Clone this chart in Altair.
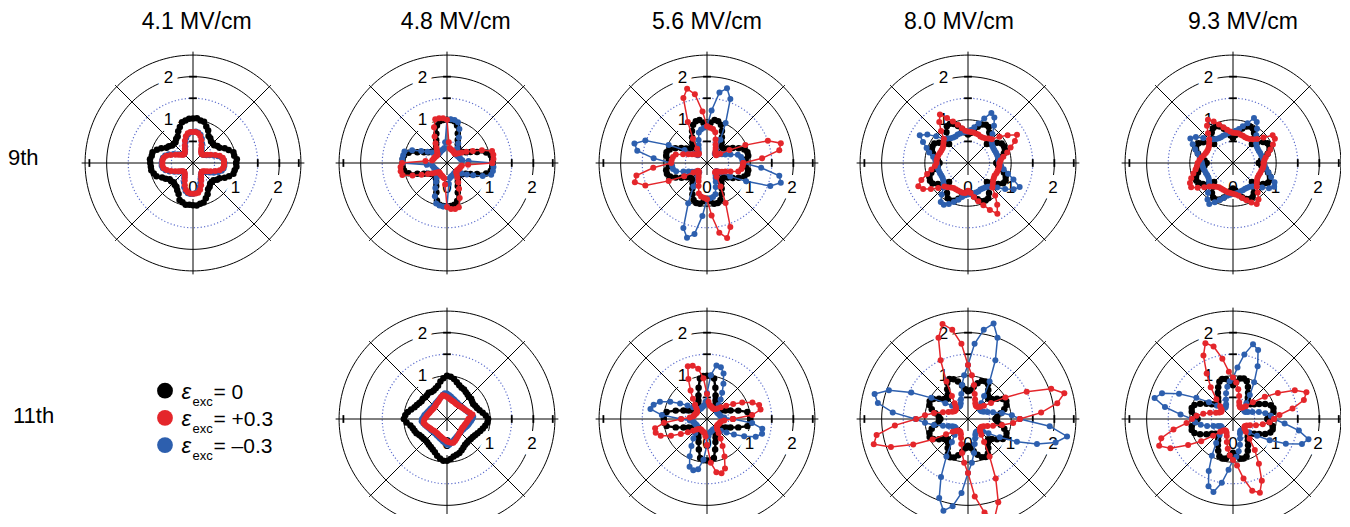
import altair as alt
import pandas as pd

# ------------------------------------------------------------------ text
FIELD_TITLES = ["4.1 MV/cm", "4.8 MV/cm", "5.6 MV/cm", "8.0 MV/cm", "9.3 MV/cm"]
ROW_LABELS = ["9th", "11th"]
LEGEND_SYMBOL = "\u03b5"
LEGEND_SUB = "exc"
LEGEND_VALUES = ["= 0", "= +0.3", "= \u20130.3"]
LEGEND_SERIES = ["black", "red", "blue"]

# polar grid (radial units)
RING_SOLID = [1.0, 2.0, 2.5]
RING_DOTTED = [0.5, 1.5]
UPPER_LABELS = [1, 2]
LOWER_LABELS = [0, 1, 2]

# ------------------------------------------------------------------ data
# radius read at every 5 degrees, starting at 0 deg (right), counter-clockwise

# 9th harmonic, 4.1 MV/cm
h9_f41_black = [
    1.00, 1.02, 0.97, 0.97, 0.88, 0.81, 0.71, 0.69, 0.64, 0.65, 0.65, 0.70, 0.72, 0.83, 0.90, 0.99, 1.00, 1.04,
    1.03, 1.03, 1.00, 0.98, 0.89, 0.81, 0.71, 0.68, 0.63, 0.63, 0.63, 0.68, 0.71, 0.81, 0.89, 0.97, 0.97, 1.00,
    0.99, 0.98, 0.98, 0.94, 0.90, 0.79, 0.73, 0.66, 0.66, 0.63, 0.66, 0.67, 0.73, 0.79, 0.91, 0.94, 0.98, 0.97,
    0.98, 0.99, 0.96, 0.95, 0.87, 0.80, 0.70, 0.67, 0.62, 0.62, 0.62, 0.68, 0.71, 0.81, 0.89, 0.97, 0.98, 1.01,
]
h9_f41_red = [
    0.72, 0.72, 0.70, 0.64, 0.55, 0.45, 0.38, 0.33, 0.30, 0.29, 0.30, 0.33, 0.38, 0.46, 0.56, 0.65, 0.70, 0.72,
    0.72, 0.72, 0.70, 0.64, 0.55, 0.45, 0.38, 0.33, 0.30, 0.29, 0.30, 0.33, 0.38, 0.45, 0.55, 0.64, 0.69, 0.71,
    0.71, 0.71, 0.69, 0.63, 0.54, 0.45, 0.38, 0.33, 0.30, 0.29, 0.30, 0.33, 0.38, 0.45, 0.55, 0.64, 0.69, 0.71,
    0.71, 0.71, 0.70, 0.64, 0.55, 0.45, 0.38, 0.33, 0.30, 0.29, 0.30, 0.33, 0.38, 0.45, 0.55, 0.64, 0.70, 0.72,
]
h9_f41_blue = [
    0.73, 0.72, 0.68, 0.60, 0.51, 0.42, 0.36, 0.32, 0.30, 0.29, 0.31, 0.35, 0.41, 0.50, 0.60, 0.68, 0.72, 0.73,
    0.72, 0.71, 0.67, 0.60, 0.51, 0.42, 0.36, 0.32, 0.30, 0.29, 0.31, 0.35, 0.41, 0.50, 0.60, 0.67, 0.71, 0.72,
    0.73, 0.73, 0.71, 0.66, 0.58, 0.48, 0.40, 0.34, 0.31, 0.30, 0.31, 0.35, 0.41, 0.50, 0.60, 0.67, 0.71, 0.72,
    0.72, 0.70, 0.66, 0.58, 0.49, 0.41, 0.36, 0.32, 0.30, 0.30, 0.32, 0.37, 0.44, 0.53, 0.62, 0.69, 0.72, 0.73,
]

# 9th harmonic, 4.8 MV/cm
h9_f48_black = [
    1.06, 1.05, 1.03, 0.94, 0.74, 0.60, 0.50, 0.44, 0.40, 0.38, 0.40, 0.44, 0.50, 0.59, 0.73, 0.90, 0.98, 1.00,
    1.00, 1.00, 0.98, 0.90, 0.72, 0.59, 0.50, 0.44, 0.40, 0.38, 0.40, 0.44, 0.50, 0.59, 0.73, 0.92, 1.01, 1.03,
    1.03, 1.03, 1.01, 0.92, 0.73, 0.59, 0.50, 0.44, 0.40, 0.38, 0.40, 0.44, 0.50, 0.59, 0.72, 0.90, 0.98, 1.00,
    1.00, 1.00, 0.98, 0.91, 0.73, 0.59, 0.50, 0.44, 0.40, 0.38, 0.40, 0.44, 0.50, 0.60, 0.74, 0.94, 1.03, 1.05,
]
h9_f48_red = [
    1.05, 1.08, 1.09, 1.08, 0.86, 0.66, 0.52, 0.42, 0.35, 0.30, 0.28, 0.29, 0.30, 0.31, 0.32, 0.33, 0.35, 0.48,
    1.00, 1.04, 1.05, 1.05, 0.88, 0.68, 0.53, 0.43, 0.36, 0.31, 0.29, 0.29, 0.30, 0.31, 0.32, 0.33, 0.35, 0.50,
    1.04, 1.08, 1.09, 1.07, 0.85, 0.65, 0.51, 0.42, 0.35, 0.30, 0.28, 0.29, 0.30, 0.31, 0.32, 0.34, 0.36, 0.50,
    1.02, 1.07, 1.08, 1.06, 0.86, 0.66, 0.52, 0.42, 0.35, 0.30, 0.29, 0.29, 0.30, 0.31, 0.32, 0.33, 0.35, 0.49,
]
h9_f48_blue = [
    1.05, 0.50, 0.36, 0.33, 0.32, 0.31, 0.30, 0.29, 0.29, 0.31, 0.35, 0.42, 0.52, 0.65, 0.84, 0.98, 1.01, 1.02,
    1.00, 0.48, 0.35, 0.33, 0.32, 0.31, 0.30, 0.29, 0.29, 0.31, 0.35, 0.42, 0.52, 0.66, 0.86, 1.02, 1.03, 1.04,
    1.03, 0.47, 0.35, 0.33, 0.32, 0.31, 0.30, 0.29, 0.29, 0.31, 0.35, 0.42, 0.51, 0.64, 0.82, 0.97, 1.00, 1.01,
    1.00, 0.48, 0.36, 0.33, 0.32, 0.31, 0.30, 0.29, 0.29, 0.31, 0.35, 0.42, 0.53, 0.67, 0.88, 1.06, 1.08, 1.08,
]

# 9th harmonic, 5.6 MV/cm
h9_f56_black = [
    0.84, 0.90, 0.97, 0.97, 0.92, 0.81, 0.69, 0.59, 0.52, 0.50, 0.52, 0.59, 0.69, 0.82, 0.94, 1.00, 1.01, 0.93,
    0.86, 0.93, 1.01, 1.00, 0.94, 0.82, 0.69, 0.59, 0.52, 0.50, 0.52, 0.59, 0.69, 0.81, 0.92, 0.97, 0.96, 0.89,
    0.84, 0.89, 0.96, 0.96, 0.91, 0.80, 0.68, 0.58, 0.52, 0.50, 0.52, 0.58, 0.68, 0.80, 0.91, 0.96, 0.96, 0.89,
    0.83, 0.89, 0.96, 0.96, 0.91, 0.80, 0.68, 0.58, 0.52, 0.50, 0.52, 0.59, 0.69, 0.81, 0.92, 0.97, 0.97, 0.90,
]
h9_f56_red = [
    0.84, 1.28, 1.70, 1.77, 1.50, 0.98, 0.60, 0.37, 0.28, 0.28, 0.30, 0.34, 0.40, 0.47, 0.58, 0.74, 0.80, 0.82,
    0.85, 1.20, 1.62, 1.78, 1.60, 1.05, 0.65, 0.40, 0.29, 0.28, 0.31, 0.35, 0.40, 0.48, 0.59, 0.75, 0.80, 0.82,
    0.83, 1.25, 1.66, 1.73, 1.52, 0.98, 0.61, 0.38, 0.28, 0.27, 0.30, 0.34, 0.39, 0.46, 0.57, 0.73, 0.79, 0.81,
    0.84, 1.22, 1.64, 1.80, 1.58, 1.02, 0.63, 0.39, 0.29, 0.28, 0.31, 0.35, 0.40, 0.47, 0.58, 0.75, 0.81, 0.83,
]
h9_f56_blue = [
    0.84, 0.82, 0.80, 0.74, 0.58, 0.47, 0.40, 0.35, 0.31, 0.28, 0.28, 0.38, 0.62, 1.02, 1.58, 1.79, 1.66, 1.22,
    0.85, 0.82, 0.79, 0.73, 0.57, 0.46, 0.39, 0.34, 0.30, 0.28, 0.28, 0.37, 0.60, 0.98, 1.52, 1.74, 1.64, 1.24,
    0.83, 0.81, 0.80, 0.74, 0.58, 0.47, 0.40, 0.35, 0.31, 0.28, 0.28, 0.38, 0.63, 1.03, 1.60, 1.79, 1.67, 1.23,
    0.84, 0.82, 0.80, 0.75, 0.59, 0.48, 0.40, 0.35, 0.31, 0.29, 0.29, 0.38, 0.62, 1.00, 1.56, 1.77, 1.70, 1.26,
]

# 9th harmonic, 8.0 MV/cm
h9_f80_black = [
    0.66, 0.70, 0.78, 0.86, 0.91, 0.92, 0.90, 0.82, 0.69, 0.62, 0.70, 0.86, 0.96, 0.98, 0.95, 0.87, 0.78, 0.70,
    0.66, 0.71, 0.80, 0.89, 0.96, 1.00, 0.98, 0.87, 0.71, 0.62, 0.69, 0.82, 0.90, 0.91, 0.89, 0.84, 0.77, 0.70,
    0.66, 0.70, 0.79, 0.88, 0.95, 0.97, 0.95, 0.85, 0.70, 0.62, 0.70, 0.85, 0.94, 0.96, 0.93, 0.86, 0.77, 0.70,
    0.66, 0.70, 0.78, 0.87, 0.94, 0.96, 0.94, 0.85, 0.70, 0.62, 0.70, 0.85, 0.94, 0.96, 0.93, 0.86, 0.77, 0.70,
]
h9_f80_red = [
    0.73, 0.76, 0.83, 0.94, 1.05, 1.20, 1.31, 1.12, 0.95, 0.78, 0.74, 0.70, 0.68, 0.68, 0.70, 0.71, 0.72, 0.72,
    0.73, 0.75, 0.82, 0.92, 1.02, 1.15, 1.30, 1.16, 0.97, 0.79, 0.74, 0.70, 0.68, 0.68, 0.69, 0.71, 0.72, 0.73,
    0.73, 0.77, 0.86, 0.98, 1.15, 1.27, 1.20, 1.05, 0.90, 0.77, 0.73, 0.69, 0.67, 0.67, 0.68, 0.69, 0.70, 0.70,
    0.64, 0.70, 0.80, 0.92, 1.04, 1.20, 1.36, 1.18, 0.98, 0.80, 0.75, 0.71, 0.69, 0.68, 0.70, 0.71, 0.72, 0.73,
]
h9_f80_blue = [
    0.72, 0.71, 0.71, 0.70, 0.69, 0.68, 0.68, 0.69, 0.72, 0.76, 0.88, 1.05, 1.22, 1.28, 1.10, 0.95, 0.84, 0.77,
    0.73, 0.72, 0.72, 0.71, 0.70, 0.68, 0.68, 0.70, 0.74, 0.78, 0.96, 1.15, 1.29, 1.15, 1.02, 0.93, 0.82, 0.76,
    0.72, 0.71, 0.71, 0.70, 0.69, 0.68, 0.68, 0.70, 0.74, 0.80, 0.95, 1.10, 1.12, 1.05, 0.96, 0.88, 0.80, 0.75,
    0.73, 0.72, 0.72, 0.71, 0.70, 0.68, 0.68, 0.69, 0.72, 0.76, 0.88, 1.05, 1.22, 1.32, 1.12, 0.96, 0.84, 0.77,
]

# 9th harmonic, 9.3 MV/cm
h9_f93_black = [
    0.60, 0.65, 0.73, 0.83, 0.90, 0.93, 0.92, 0.85, 0.72, 0.62, 0.72, 0.85, 0.92, 0.93, 0.90, 0.83, 0.73, 0.65,
    0.58, 0.64, 0.72, 0.82, 0.90, 0.94, 0.93, 0.86, 0.73, 0.62, 0.71, 0.84, 0.92, 0.94, 0.91, 0.84, 0.74, 0.66,
    0.61, 0.66, 0.74, 0.84, 0.91, 0.94, 0.92, 0.85, 0.72, 0.62, 0.72, 0.85, 0.92, 0.93, 0.90, 0.83, 0.73, 0.65,
    0.59, 0.64, 0.72, 0.82, 0.89, 0.92, 0.91, 0.84, 0.72, 0.62, 0.72, 0.85, 0.93, 0.94, 0.91, 0.84, 0.74, 0.66,
]
h9_f93_red = [
    0.71, 0.73, 0.77, 0.84, 0.92, 1.02, 1.12, 1.12, 0.92, 0.79, 0.72, 0.68, 0.66, 0.66, 0.67, 0.68, 0.70, 0.70,
    0.70, 0.73, 0.78, 0.86, 0.95, 1.06, 1.16, 1.05, 0.90, 0.78, 0.72, 0.68, 0.66, 0.66, 0.67, 0.70, 0.74, 0.78,
    0.82, 0.84, 0.88, 0.95, 1.03, 1.10, 1.12, 1.00, 0.87, 0.77, 0.71, 0.67, 0.65, 0.65, 0.66, 0.67, 0.69, 0.70,
    0.71, 0.73, 0.77, 0.84, 0.92, 1.01, 1.10, 1.03, 0.89, 0.78, 0.72, 0.68, 0.66, 0.66, 0.67, 0.68, 0.70, 0.71,
]
h9_f93_blue = [
    0.72, 0.71, 0.70, 0.68, 0.67, 0.66, 0.66, 0.67, 0.70, 0.75, 0.84, 0.97, 1.10, 1.15, 0.98, 0.88, 0.80, 0.75,
    0.72, 0.71, 0.70, 0.68, 0.67, 0.66, 0.66, 0.68, 0.72, 0.78, 0.90, 1.05, 1.14, 1.03, 0.93, 0.85, 0.78, 0.74,
    0.72, 0.71, 0.70, 0.68, 0.67, 0.66, 0.66, 0.68, 0.72, 0.78, 0.90, 1.03, 1.10, 1.00, 0.91, 0.84, 0.77, 0.74,
    0.72, 0.71, 0.70, 0.68, 0.67, 0.66, 0.66, 0.67, 0.71, 0.77, 0.88, 1.02, 1.10, 1.06, 0.94, 0.85, 0.78, 0.74,
]

# 11th harmonic, 4.8 MV/cm
h11_f48_black = [
    0.95, 0.90, 0.84, 0.78, 0.74, 0.72, 0.70, 0.71, 0.73, 0.72, 0.74, 0.76, 0.79, 0.80, 0.83, 0.88, 0.94, 0.98,
    1.00, 0.95, 0.88, 0.80, 0.76, 0.73, 0.72, 0.74, 0.72, 0.71, 0.73, 0.72, 0.74, 0.77, 0.80, 0.86, 0.92, 0.97,
    1.00, 0.94, 0.86, 0.82, 0.80, 0.78, 0.74, 0.72, 0.71, 0.70, 0.71, 0.73, 0.75, 0.78, 0.82, 0.88, 0.93, 0.97,
    0.97, 0.93, 0.88, 0.86, 0.84, 0.80, 0.76, 0.73, 0.72, 0.71, 0.72, 0.73, 0.75, 0.78, 0.82, 0.86, 0.90, 0.94,
]
h11_f48_red = [
    0.50, 0.55, 0.60, 0.55, 0.51, 0.48, 0.46, 0.44, 0.43, 0.42, 0.41, 0.41, 0.41, 0.42, 0.43, 0.44, 0.46, 0.48,
    0.51, 0.54, 0.56, 0.53, 0.49, 0.46, 0.44, 0.43, 0.41, 0.40, 0.40, 0.40, 0.41, 0.42, 0.43, 0.45, 0.47, 0.49,
    0.52, 0.54, 0.55, 0.52, 0.49, 0.46, 0.44, 0.43, 0.41, 0.40, 0.40, 0.40, 0.41, 0.42, 0.43, 0.45, 0.47, 0.49,
    0.52, 0.54, 0.56, 0.57, 0.54, 0.51, 0.48, 0.46, 0.44, 0.43, 0.42, 0.41, 0.41, 0.42, 0.43, 0.44, 0.46, 0.48,
]
h11_f48_blue = [
    0.58, 0.61, 0.57, 0.53, 0.50, 0.48, 0.46, 0.45, 0.44, 0.43, 0.43, 0.44, 0.45, 0.46, 0.48, 0.50, 0.53, 0.56,
    0.59, 0.60, 0.57, 0.53, 0.50, 0.48, 0.46, 0.45, 0.44, 0.43, 0.43, 0.44, 0.45, 0.46, 0.48, 0.50, 0.53, 0.55,
    0.58, 0.59, 0.56, 0.53, 0.50, 0.48, 0.46, 0.45, 0.44, 0.43, 0.43, 0.44, 0.45, 0.46, 0.48, 0.50, 0.53, 0.56,
    0.59, 0.60, 0.57, 0.53, 0.50, 0.48, 0.46, 0.45, 0.44, 0.43, 0.43, 0.44, 0.45, 0.47, 0.49, 0.51, 0.53, 0.56,
]

# 11th harmonic, 5.6 MV/cm
h11_f56_black = [
    1.00, 1.00, 0.95, 0.75, 0.58, 0.47, 0.40, 0.36, 0.33, 0.32, 0.33, 0.36, 0.40, 0.47, 0.58, 0.75, 0.95, 1.00,
    1.00, 1.00, 0.95, 0.75, 0.58, 0.47, 0.40, 0.36, 0.33, 0.32, 0.33, 0.36, 0.40, 0.47, 0.58, 0.75, 0.95, 1.00,
    1.00, 1.00, 0.95, 0.75, 0.58, 0.47, 0.40, 0.36, 0.33, 0.32, 0.33, 0.36, 0.40, 0.47, 0.57, 0.73, 0.92, 0.96,
    0.96, 0.96, 0.92, 0.73, 0.57, 0.47, 0.40, 0.36, 0.33, 0.32, 0.33, 0.36, 0.40, 0.47, 0.58, 0.75, 0.95, 1.00,
]
h11_f56_red = [
    0.60, 1.05, 1.26, 1.25, 1.12, 0.90, 0.70, 0.54, 0.42, 0.34, 0.30, 0.28, 0.28, 0.29, 0.30, 0.31, 0.33, 0.40,
    0.58, 0.95, 1.18, 1.28, 1.30, 1.02, 0.76, 0.57, 0.43, 0.35, 0.30, 0.28, 0.28, 0.29, 0.30, 0.31, 0.33, 0.40,
    0.60, 1.00, 1.22, 1.23, 1.14, 0.92, 0.70, 0.54, 0.42, 0.34, 0.30, 0.28, 0.28, 0.29, 0.30, 0.31, 0.33, 0.40,
    0.60, 1.02, 1.25, 1.30, 1.22, 0.96, 0.72, 0.55, 0.42, 0.34, 0.30, 0.28, 0.28, 0.29, 0.30, 0.31, 0.33, 0.40,
]
h11_f56_blue = [
    0.60, 0.40, 0.33, 0.31, 0.30, 0.29, 0.28, 0.28, 0.30, 0.34, 0.42, 0.55, 0.70, 0.90, 1.12, 1.24, 1.26, 1.02,
    0.60, 0.40, 0.33, 0.31, 0.30, 0.29, 0.28, 0.28, 0.30, 0.34, 0.42, 0.55, 0.72, 0.94, 1.16, 1.28, 1.33, 1.05,
    0.60, 0.40, 0.33, 0.31, 0.30, 0.29, 0.28, 0.28, 0.30, 0.34, 0.42, 0.55, 0.72, 0.95, 1.18, 1.23, 1.18, 0.95,
    0.60, 0.40, 0.33, 0.31, 0.30, 0.29, 0.28, 0.28, 0.30, 0.34, 0.42, 0.55, 0.72, 0.95, 1.20, 1.32, 1.30, 1.05,
]

# 11th harmonic, 8.0 MV/cm
h11_f80_black = [
    0.64, 0.68, 0.77, 0.87, 0.95, 0.98, 0.93, 0.82, 0.72, 0.66, 0.72, 0.82, 0.93, 0.96, 0.94, 0.86, 0.76, 0.67,
    0.64, 0.69, 0.79, 0.90, 0.98, 1.02, 0.96, 0.84, 0.73, 0.66, 0.72, 0.82, 0.93, 0.98, 0.95, 0.87, 0.77, 0.68,
    0.64, 0.68, 0.77, 0.87, 0.95, 0.98, 0.93, 0.82, 0.72, 0.66, 0.72, 0.82, 0.93, 0.98, 0.95, 0.87, 0.77, 0.68,
    0.62, 0.67, 0.76, 0.86, 0.94, 0.97, 0.92, 0.82, 0.72, 0.66, 0.72, 0.82, 0.93, 0.98, 0.95, 0.87, 0.77, 0.68,
]
h11_f80_red = [
    1.20, 1.70, 2.10, 2.31, 2.05, 1.50, 1.00, 0.65, 0.48, 0.40, 0.36, 0.35, 0.36, 0.40, 0.48, 0.60, 0.80, 1.02,
    1.25, 1.75, 2.10, 2.28, 2.00, 1.50, 1.00, 0.65, 0.48, 0.40, 0.36, 0.35, 0.36, 0.40, 0.48, 0.60, 0.80, 1.00,
    1.20, 1.70, 2.15, 2.26, 1.90, 1.40, 0.95, 0.62, 0.46, 0.39, 0.35, 0.34, 0.35, 0.39, 0.47, 0.60, 0.80, 1.02,
    1.25, 1.80, 2.20, 2.38, 2.05, 1.52, 1.00, 0.65, 0.48, 0.40, 0.36, 0.35, 0.36, 0.40, 0.48, 0.60, 0.80, 1.05,
]
h11_f80_blue = [
    1.20, 1.02, 0.80, 0.60, 0.48, 0.40, 0.36, 0.35, 0.36, 0.40, 0.48, 0.65, 1.00, 1.50, 2.00, 2.29, 2.10, 1.75,
    1.25, 1.02, 0.80, 0.60, 0.48, 0.40, 0.36, 0.35, 0.36, 0.40, 0.48, 0.64, 0.98, 1.45, 1.95, 2.24, 2.12, 1.75,
    1.22, 1.00, 0.80, 0.60, 0.48, 0.40, 0.36, 0.35, 0.36, 0.40, 0.48, 0.65, 1.00, 1.48, 1.95, 2.20, 2.05, 1.72,
    1.25, 1.02, 0.80, 0.60, 0.48, 0.40, 0.36, 0.35, 0.36, 0.40, 0.46, 0.58, 0.85, 1.25, 1.70, 2.10, 2.33, 1.90,
]

# 11th harmonic, 9.3 MV/cm
h11_f93_black = [
    0.80, 0.86, 0.95, 0.97, 0.93, 0.82, 0.70, 0.60, 0.53, 0.50, 0.53, 0.60, 0.70, 0.82, 0.93, 0.97, 0.95, 0.86,
    0.78, 0.85, 0.94, 0.96, 0.92, 0.81, 0.70, 0.60, 0.53, 0.50, 0.53, 0.60, 0.71, 0.84, 0.95, 0.99, 0.97, 0.88,
    0.82, 0.88, 0.97, 0.99, 0.95, 0.84, 0.71, 0.60, 0.53, 0.50, 0.53, 0.60, 0.70, 0.81, 0.92, 0.95, 0.93, 0.85,
    0.78, 0.84, 0.93, 0.95, 0.92, 0.81, 0.70, 0.60, 0.53, 0.50, 0.53, 0.60, 0.70, 0.82, 0.92, 0.95, 0.93, 0.85,
]
h11_f93_red = [
    0.95, 1.08, 1.40, 1.70, 1.81, 1.58, 1.20, 0.90, 0.60, 0.42, 0.35, 0.32, 0.32, 0.35, 0.42, 0.55, 0.70, 0.85,
    0.96, 1.10, 1.42, 1.74, 1.87, 1.62, 1.22, 0.90, 0.60, 0.42, 0.35, 0.32, 0.32, 0.35, 0.42, 0.55, 0.70, 0.85,
    0.95, 1.08, 1.40, 1.72, 1.82, 1.60, 1.20, 0.90, 0.60, 0.42, 0.35, 0.32, 0.32, 0.35, 0.42, 0.55, 0.70, 0.85,
    0.95, 1.08, 1.40, 1.72, 1.82, 1.58, 1.20, 0.88, 0.60, 0.42, 0.35, 0.32, 0.32, 0.35, 0.42, 0.55, 0.70, 0.85,
]
h11_f93_blue = [
    0.95, 0.88, 0.76, 0.62, 0.48, 0.38, 0.33, 0.32, 0.33, 0.38, 0.48, 0.68, 0.98, 1.35, 1.70, 1.79, 1.52, 1.20,
    0.95, 0.88, 0.76, 0.62, 0.48, 0.38, 0.33, 0.32, 0.33, 0.38, 0.48, 0.68, 0.98, 1.38, 1.75, 1.88, 1.60, 1.22,
    0.95, 0.88, 0.76, 0.62, 0.48, 0.38, 0.33, 0.32, 0.33, 0.38, 0.48, 0.68, 0.98, 1.33, 1.66, 1.75, 1.50, 1.18,
    0.95, 0.88, 0.76, 0.62, 0.48, 0.38, 0.33, 0.32, 0.33, 0.38, 0.48, 0.68, 0.98, 1.35, 1.70, 1.81, 1.55, 1.20,
]

ROW_9 = [
    (h9_f41_black, h9_f41_red, h9_f41_blue),
    (h9_f48_black, h9_f48_red, h9_f48_blue),
    (h9_f56_black, h9_f56_red, h9_f56_blue),
    (h9_f80_black, h9_f80_red, h9_f80_blue),
    (h9_f93_black, h9_f93_red, h9_f93_blue),
]
ROW_11 = [
    None,
    (h11_f48_black, h11_f48_red, h11_f48_blue),
    (h11_f56_black, h11_f56_red, h11_f56_blue),
    (h11_f80_black, h11_f80_red, h11_f80_blue),
    (h11_f93_black, h11_f93_red, h11_f93_blue),
]

# ------------------------------------------------------------------ style / layout
FONT = "Liberation Sans"
COLORS = {"black": "#000000", "red": "#e4262b", "blue": "#2d5fae"}
LINE_W = {"black": 2.4, "red": 1.5, "blue": 1.5}
DOT_SIZE = {"black": 42, "red": 36, "blue": 36}
DOT_COLOR = "#5a6bcc"
PX = 43.17                      # pixels per radial unit
COL_EDGES = [73, 320, 577, 837, 1100, 1341]   # page x of column boundaries
COL_CENTERS = [193, 447, 707, 968, 1233]      # page x of polar centres
LABEL_W = 65
TITLE_H = 35
ROW_H = [240, 231]
ROW_C = [120, 136]              # centre offset from the top of each row
TITLE_X = [196.7, 455.8, 707, 959, 1243]
TITLE_BASE = 29.3
AXIS_LEN = 2.58
DIAG_LEN = 2.55
LABEL_SIDE = -0.57

POLX = "datum.r * cos(datum.angle * PI / 180)"
POLY = "datum.r * sin(datum.angle * PI / 180)"


def curve_frame(values):
    n = len(values)
    return pd.DataFrame({
        "idx": list(range(n + 1)),
        "angle": [i * 360.0 / n for i in range(n + 1)],
        "r": list(values) + [values[0]],
    })


def ring_frame(radii):
    rows = []
    for r in radii:
        for a in range(0, 361, 2):
            rows.append({"ring": r, "r": r, "angle": a})
    return pd.DataFrame(rows)


spoke_df = pd.DataFrame({"angle": [0, 90, 45, 135],
                         "len": [AXIS_LEN, AXIS_LEN, DIAG_LEN, DIAG_LEN]})
tick_df = pd.DataFrame({"angle": [90, 90, 90, 0, 0, 0, 180],
                        "r": [0.5, 1.5, 2.0, 1.5, 2.0, 2.45, 2.4]})
label_rows = [{"t": str(v), "lx": LABEL_SIDE, "ly": v * 0.985} for v in UPPER_LABELS]
label_rows += [{"t": str(v), "lx": v * 0.985, "ly": LABEL_SIDE} for v in LOWER_LABELS]
label_df = pd.DataFrame(label_rows)


def polar_panel(col, row, curves):
    left, right = COL_EDGES[col], COL_EDGES[col + 1]
    c = COL_CENTERS[col]
    h, hc = ROW_H[row], ROW_C[row]
    xs = alt.Scale(domain=[-(c - left) / PX, (right - c) / PX], nice=False, zero=False)
    ys = alt.Scale(domain=[-(h - hc) / PX, hc / PX], nice=False, zero=False)
    X = alt.X("x:Q", scale=xs, axis=None)
    Y = alt.Y("y:Q", scale=ys, axis=None)

    solid = alt.Chart(ring_frame(RING_SOLID)).transform_calculate(x=POLX, y=POLY).mark_line(
        color="black", strokeWidth=1, clip=True).encode(x=X, y=Y, detail="ring:N", order="angle:Q")
    dotted = alt.Chart(ring_frame(RING_DOTTED)).transform_calculate(x=POLX, y=POLY).mark_line(
        color=DOT_COLOR, strokeWidth=1.2, strokeDash=[1.2, 2.2], clip=True).encode(
        x=X, y=Y, detail="ring:N", order="angle:Q")
    spokes = alt.Chart(spoke_df).transform_calculate(
        x="-datum.len * cos(datum.angle * PI / 180)",
        y="-datum.len * sin(datum.angle * PI / 180)",
        x2="datum.len * cos(datum.angle * PI / 180)",
        y2="datum.len * sin(datum.angle * PI / 180)",
    ).mark_rule(color="black", strokeWidth=1, clip=True).encode(
        x=X, y=Y, x2=alt.X2("x2:Q"), y2=alt.Y2("y2:Q"))
    ticks = alt.Chart(tick_df).transform_calculate(
        x="datum.r * cos(datum.angle * PI / 180) + 0.09 * sin(datum.angle * PI / 180)",
        y="datum.r * sin(datum.angle * PI / 180) - 0.09 * cos(datum.angle * PI / 180)",
        x2="datum.r * cos(datum.angle * PI / 180) - 0.09 * sin(datum.angle * PI / 180)",
        y2="datum.r * sin(datum.angle * PI / 180) + 0.09 * cos(datum.angle * PI / 180)",
    ).mark_rule(color="black", strokeWidth=1.8, clip=True).encode(
        x=X, y=Y, x2=alt.X2("x2:Q"), y2=alt.Y2("y2:Q"))
    halo = alt.Chart(label_df).mark_text(
        font=FONT, fontSize=17, fill="white", stroke="white", strokeWidth=12,
        strokeJoin="round", align="center", baseline="middle", clip=True).encode(
        x=alt.X("lx:Q", scale=xs, axis=None), y=alt.Y("ly:Q", scale=ys, axis=None), text="t:N")
    labels = alt.Chart(label_df).mark_text(
        font=FONT, fontSize=17, color="black", align="center", baseline="middle", clip=True).encode(
        x=alt.X("lx:Q", scale=xs, axis=None), y=alt.Y("ly:Q", scale=ys, axis=None), text="t:N")

    layers = [solid, dotted, spokes, ticks, halo, labels]
    black, red, blue = curves
    for vals, name in ((black, "black"), (blue, "blue"), (red, "red")):
        base = alt.Chart(curve_frame(vals)).transform_calculate(x=POLX, y=POLY)
        layers.append(base.mark_line(color=COLORS[name], strokeWidth=LINE_W[name], clip=True).encode(
            x=X, y=Y, order="idx:Q"))
        layers.append(base.mark_circle(color=COLORS[name], size=DOT_SIZE[name], opacity=1,
                                       clip=True).encode(x=X, y=Y))
    return alt.layer(*layers).properties(width=right - left, height=h)


def row_label(row, text, xpos, base):
    df = pd.DataFrame({"t": [text], "x": [xpos], "y": [base]})
    return alt.Chart(df).mark_text(font=FONT, fontSize=22, align="left", baseline="alphabetic",
                                   color="black").encode(
        x=alt.X("x:Q", scale=alt.Scale(domain=[0, LABEL_W]), axis=None),
        y=alt.Y("y:Q", scale=alt.Scale(domain=[0, ROW_H[row]], reverse=True), axis=None),
        text="t:N").properties(width=LABEL_W, height=ROW_H[row])


def legend_panel():
    w = COL_EDGES[1] - COL_EDGES[0]
    h = ROW_H[1]
    rows = list(range(len(LEGEND_VALUES)))
    dots = pd.DataFrame({"k": rows, "s": LEGEND_SERIES})
    texts = pd.DataFrame({"k": rows, "v": LEGEND_VALUES, "e": [LEGEND_SYMBOL] * 3, "sub": [LEGEND_SUB] * 3})
    xs = alt.Scale(domain=[0, w], nice=False, zero=False)
    ys = alt.Scale(domain=[0, h], reverse=True, nice=False, zero=False)
    X = lambda f: alt.X(f, type="quantitative", scale=xs, axis=None)
    Y = lambda f: alt.Y(f, type="quantitative", scale=ys, axis=None)
    dot = alt.Chart(dots).transform_calculate(px="92", py="107.7 + 27.2 * datum.k").mark_circle(
        size=250, opacity=1).encode(
        x=X("px"), y=Y("py"),
        color=alt.Color("s:N", scale=alt.Scale(domain=LEGEND_SERIES,
                                               range=[COLORS[s] for s in LEGEND_SERIES]), legend=None))
    tbase = alt.Chart(texts)
    eps = tbase.transform_calculate(px="108.5", py="115.7 + 27.2 * datum.k").mark_text(
        font=FONT, fontSize=22, fontStyle="italic", align="left", baseline="alphabetic",
        color="black").encode(x=X("px"), y=Y("py"), text="e:N")
    sub = tbase.transform_calculate(px="119.5", py="122.5 + 27.2 * datum.k").mark_text(
        font=FONT, fontSize=13, align="left", baseline="alphabetic", color="black").encode(
        x=X("px"), y=Y("py"), text="sub:N")
    val = tbase.transform_calculate(px="140.5", py="115.7 + 27.2 * datum.k").mark_text(
        font=FONT, fontSize=21, align="left", baseline="alphabetic", color="black").encode(
        x=X("px"), y=Y("py"), text="v:N")
    return alt.layer(dot, eps, sub, val).properties(width=w, height=h)


title_df = pd.DataFrame({"t": FIELD_TITLES, "x": TITLE_X, "y": [TITLE_BASE] * len(FIELD_TITLES)})
title_strip = alt.Chart(title_df).mark_text(
    font=FONT, fontSize=23, align="center", baseline="alphabetic", color="black").encode(
    x=alt.X("x:Q", scale=alt.Scale(domain=[8, COL_EDGES[-1]], nice=False, zero=False), axis=None),
    y=alt.Y("y:Q", scale=alt.Scale(domain=[8, 8 + TITLE_H], reverse=True, nice=False, zero=False), axis=None),
    text="t:N").properties(width=COL_EDGES[-1] - 8, height=TITLE_H)

row1 = alt.hconcat(row_label(0, ROW_LABELS[0], 0, 122),
                   *[polar_panel(i, 0, ROW_9[i]) for i in range(5)],
                   spacing=0, bounds="flush")
row2 = alt.hconcat(row_label(1, ROW_LABELS[1], 5, 140),
                   legend_panel(),
                   *[polar_panel(i, 1, ROW_11[i]) for i in range(1, 5)],
                   spacing=0, bounds="flush")

chart = alt.vconcat(title_strip, row1, row2, spacing=0, padding=0).configure(
    font=FONT).configure_view(strokeWidth=0)

chart.save("out.html", embed_options={"renderer": "svg", "actions": False})
